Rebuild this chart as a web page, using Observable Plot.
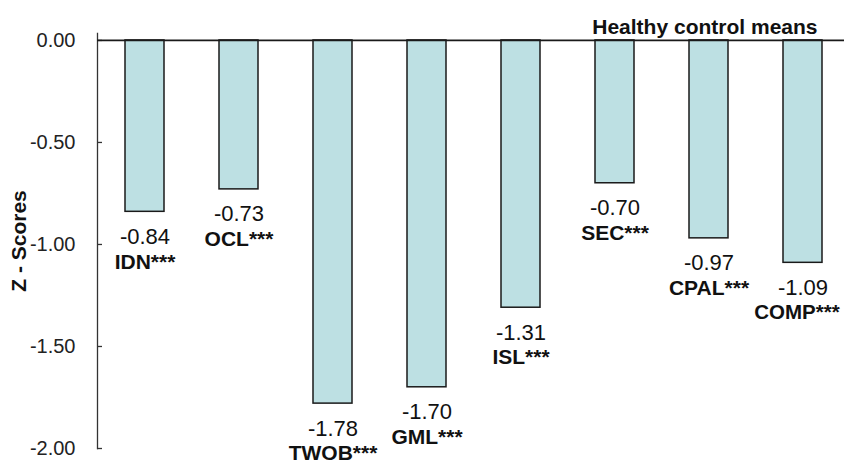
<!DOCTYPE html>
<html>
<head>
<meta charset="utf-8">
<script src="https://cdn.jsdelivr.net/npm/d3@7"></script>
<script src="https://cdn.jsdelivr.net/npm/@observablehq/plot@0.6"></script>
<style>
  html, body { margin: 0; padding: 0; background: #fff; }
  #chart svg { display: block; }
</style>
</head>
<body>
<div id="chart"></div>
<script>
const categories = ["IDN", "OCL", "TWOB", "GML", "ISL", "SEC", "CPAL", "COMP"];
const values = [-0.84, -0.73, -1.78, -1.70, -1.31, -0.70, -0.97, -1.09];
const significance = ["***", "***", "***", "***", "***", "***", "***", "***"];
const yTicks = [0, -0.5, -1.0, -1.5, -2.0];
const title = "Healthy control means";
const yLabel = "Z - Scores";

const data = categories.map((c, i) => ({cat: c, value: values[i], sig: significance[i]}));
const lastIdx = data.length - 1;
const fmt = d => d.toFixed(2);
const font = "Arial, 'Liberation Sans', sans-serif";

const nameOpts = {x: "cat", y: "value", text: d => d.cat + d.sig, dy: 50, fontSize: 21, fontWeight: "bold", fill: "#111"};

const svg = Plot.plot({
  width: 844,
  height: 463,
  marginLeft: 97,
  marginRight: 0,
  marginTop: 33,
  marginBottom: 15,
  style: {fontFamily: font, background: "#fff", color: "#222"},
  x: {domain: categories, range: [96, 851], paddingInner: 0.59, paddingOuter: 0.295, axis: null},
  y: {domain: [-2, 0.034], axis: null},
  marks: [
    Plot.frame({anchor: "left", stroke: "#333", strokeWidth: 1.3}),
    Plot.axisY({ticks: yTicks, tickSize: 0, tickPadding: 22, tickFormat: fmt, fontSize: 20, label: null, fill: "#222"}),
    Plot.axisY({ticks: yTicks, tickSize: 5, dx: 5, tickFormat: () => "", label: null, stroke: "#333", strokeWidth: 1.3}),
    Plot.barY(data, {x: "cat", y1: 0, y2: "value", fill: "#bde0e3", stroke: "#1a1a1a", strokeWidth: 1.5}),
    Plot.ruleY([0], {stroke: "#1a1a1a", strokeWidth: 1.7}),
    Plot.text(data, {x: "cat", y: "value", text: d => fmt(d.value), dy: 25, fontSize: 22, fill: "#111"}),
    Plot.text(data.slice(0, lastIdx), nameOpts),
    Plot.text(data.slice(lastIdx), {...nameOpts, dx: -6, fontSize: 20.5}),
    Plot.text([title], {frameAnchor: "top-right", dx: -27, dy: -14, textAnchor: "end", fontSize: 21, fontWeight: "bold", fill: "#111"}),
    Plot.text([yLabel], {frameAnchor: "left", dx: -78, dy: 0, rotate: -90, textAnchor: "middle", fontSize: 21, fontWeight: "bold", fill: "#111"})
  ]
});

document.getElementById("chart").appendChild(svg);
</script>
</body>
</html>
